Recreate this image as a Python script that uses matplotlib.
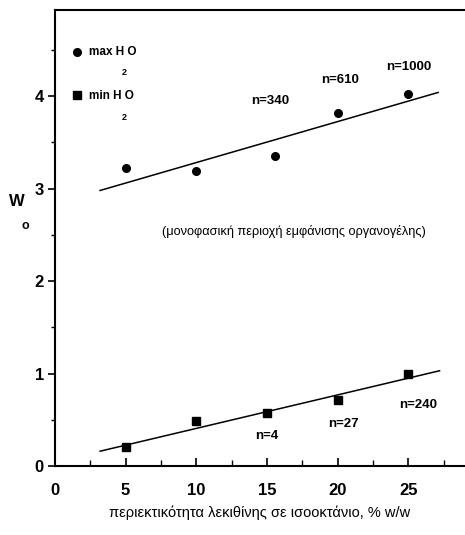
import matplotlib
matplotlib.use("Agg")
import matplotlib.pyplot as plt
from matplotlib.ticker import MultipleLocator

plt.rcParams["font.family"] = ["Liberation Sans", "DejaVu Sans"]

# max H2O (circles)
x_max = [5, 10, 15.6, 20, 25]
y_max = [3.22, 3.19, 3.35, 3.82, 4.02]
fit_max_x = [3.2, 27.1]
fit_max_y = [2.98, 4.04]
n_max = ["n=340", "n=610", "n=1000"]
n_max_pos = [(15.2, 3.95), (20.2, 4.17), (25.0, 4.32)]

# min H2O (squares)
x_min = [5, 10, 15, 20, 25]
y_min = [0.21, 0.49, 0.57, 0.71, 1.0]
fit_min_x = [3.2, 27.2]
fit_min_y = [0.16, 1.03]
n_min = ["n=4", "n=27", "n=240"]
n_min_pos = [(15.0, 0.32), (20.4, 0.45), (25.7, 0.66)]

fig = plt.figure(figsize=(4.65, 5.35), dpi=100)
ax = fig.add_axes([0.118, 0.129, 0.882, 0.852])

ax.plot(fit_max_x, fit_max_y, color="black", lw=1.1)
ax.plot(fit_min_x, fit_min_y, color="black", lw=1.1)
ax.plot(x_max, y_max, "o", color="black", ms=5.5, ls="none")
ax.plot(x_min, y_min, "s", color="black", ms=5.5, ls="none")

for txt, (tx, ty) in zip(n_max, n_max_pos):
    ax.text(tx, ty, txt, ha="center", va="center", fontsize=9.5,
            fontweight="bold")
for txt, (tx, ty) in zip(n_min, n_min_pos):
    ax.text(tx, ty, txt, ha="center", va="center", fontsize=9.5,
            fontweight="bold")

# legend, typeset like the original
ax.plot([1.55], [4.48], "o", color="black", ms=5.5)
ax.text(2.4, 4.48, "max H O", ha="left", va="center", fontsize=8.5,
        fontweight="bold")
ax.text(4.9, 4.26, "2", ha="center", va="center", fontsize=6.5,
        fontweight="bold")
ax.plot([1.55], [4.01], "s", color="black", ms=5.5)
ax.text(2.4, 4.0, "min H O", ha="left", va="center", fontsize=8.5,
        fontweight="bold")
ax.text(4.9, 3.77, "2", ha="center", va="center", fontsize=6.5,
        fontweight="bold")

ax.text(16.9, 2.54, "(μονοφασική περιοχή εμφάνισης οργανογέλης)",
        ha="center", va="center", fontsize=9.2)

ax.text(-2.7, 2.86, "W", ha="center", va="center", fontsize=12,
        fontweight="bold", clip_on=False)
ax.text(-2.1, 2.6, "o", ha="center", va="center", fontsize=9,
        fontweight="bold", clip_on=False)

ax.set_xlim(0, 29)
ax.set_ylim(0, 4.93)
ax.xaxis.set_major_locator(MultipleLocator(5))
ax.xaxis.set_minor_locator(MultipleLocator(2.5))
ax.yaxis.set_major_locator(MultipleLocator(1))
ax.yaxis.set_minor_locator(MultipleLocator(0.5))
ax.tick_params(axis="x", which="both", direction="in", labelsize=12, pad=12)
ax.tick_params(axis="x", which="major", length=6, width=1.2)
ax.tick_params(axis="x", which="minor", length=4, width=1)
ax.tick_params(axis="y", which="both", direction="out", labelsize=12, pad=3)
ax.tick_params(axis="y", which="major", length=5, width=1.2)
ax.tick_params(axis="y", which="minor", length=3, width=1)
for lab in ax.get_xticklabels() + ax.get_yticklabels():
    lab.set_fontweight("bold")

ax.spines["right"].set_visible(False)
for s in ["left", "bottom", "top"]:
    ax.spines[s].set_linewidth(1.5)

ax.set_xlabel("περιεκτικότητα λεκιθίνης σε ισοοκτάνιο, % w/w", fontsize=10.5,
              labelpad=6)

fig.savefig("out.png", dpi=100)
